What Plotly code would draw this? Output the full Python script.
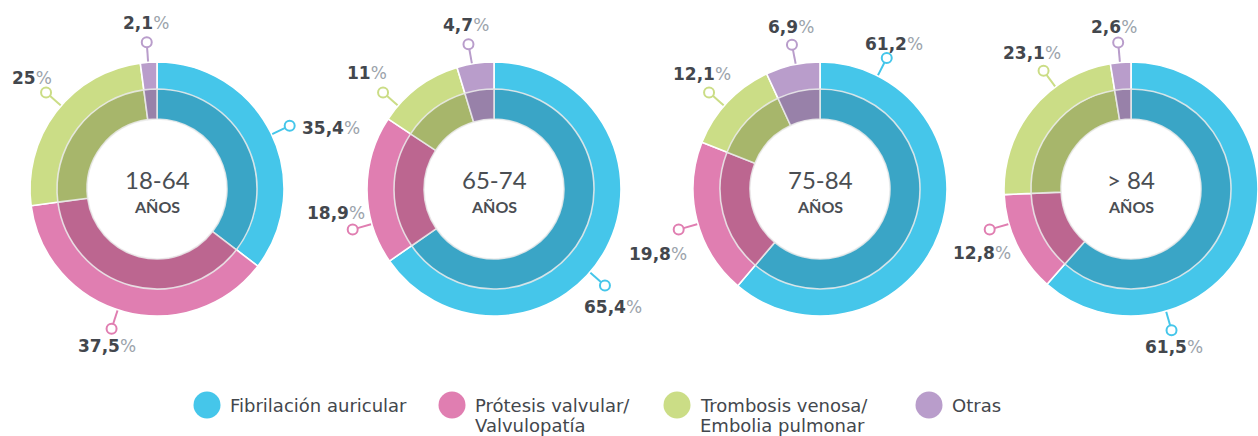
import math
import plotly.graph_objects as go

# ---------------- data ----------------
AGE_GROUPS = ["18-64", "65-74", "75-84", "> 84"]
CATEGORIES = ["Fibrilación auricular", "Prótesis valvular/<br>Valvulopatía",
              "Trombosis venosa/<br>Embolia pulmonar", "Otras"]
FIBRILACION = [35.4, 65.4, 61.2, 61.5]
PROTESIS = [37.5, 18.9, 19.8, 12.8]
TROMBOSIS = [25.0, 11.0, 12.1, 23.1]
OTRAS = [2.1, 4.7, 6.9, 2.6]
SERIES = [FIBRILACION, PROTESIS, TROMBOSIS, OTRAS]

# ---------------- layout / style ----------------
W, H = 1258, 436
CENTERS_X = [157, 494, 820, 1131]
CENTER_Y = 189
R_OUT, R_MID, R_HOLE = 127, 100, 70
R_MARK = 147
LIGHT = ["#45C6EA", "#E07EB1", "#CBDD86", "#B99DCB"]
DARK = ["#3AA5C6", "#BC6690", "#A7B66B", "#9881A9"]
TXT = "#43474D"
PCT = "#9BA3AB"
CENTER_FONT = "Lato"
LABEL_FONT = "DejaVu Sans"

# callout angle (deg clockwise from 12 o'clock) and label offset per donut/category
LABEL_ANGLES = [[64.5, 198, 311, 356],
                [131, 254, 311, 350],
                [27, 254, 311, 349],
                [164, 254, 323.5, 355]]
LABEL_OFFSETS = [[(10, 2, "left"), (-5, 17, "center"), (-14, -15, "center"), (-1, -19, "center")],
                 [(8, 22, "center"), (-17, -17, "center"), (-16, -20, "center"), (-2, -19, "center")],
                 [(7, -14, "center"), (-21, 24, "center"), (-7, -19, "center"), (-1, -18, "center")],
                 [(2, 17, "center"), (-8, 23, "center"), (-12, -18, "center"), (-4, -16, "center")]]
LEGEND_X = [207, 452, 677, 929]
LEGEND_Y = 405
LEGEND_LINE = 20


def fmt(v):
    return f"{v:g}".replace(".", ",")


fig = go.Figure()
annotations = []

for d, age in enumerate(AGE_GROUPS):
    vals = [s[d] for s in SERIES]
    cx = CENTERS_X[d]
    for r, hole, cols, lc in [(R_OUT, 0.78, LIGHT, "white"),
                              (R_MID, R_HOLE / R_MID, DARK, "rgba(235,235,235,0.85)")]:
        fig.add_trace(go.Pie(
            values=vals, labels=[c.replace("<br>", " ") for c in CATEGORIES],
            hole=hole, sort=False, direction="clockwise", rotation=0,
            marker=dict(colors=cols, line=dict(color=lc, width=1.6)),
            textinfo="none", hoverinfo="label+value", showlegend=False,
            domain=dict(x=[(cx - r) / W, (cx + r) / W],
                        y=[(H - CENTER_Y - r) / H, (H - CENTER_Y + r) / H]),
        ))
    # center text (age group + "AÑOS")
    annotations.append(dict(
        x=cx, y=CENTER_Y + 6, xref="x", yref="y", yanchor="bottom", showarrow=False, borderpad=0,
        text=age, font=dict(family=CENTER_FONT, size=24, color="#4A4E53")))
    annotations.append(dict(
        x=cx, y=CENTER_Y + 6.5, xref="x", yref="y", yanchor="top", showarrow=False, borderpad=0,
        text="AÑOS", font=dict(family=CENTER_FONT, size=16, color="#4A4E53", weight=700)))

    # callouts
    for k in range(4):
        a = math.radians(LABEL_ANGLES[d][k])
        sx, sy = math.sin(a), -math.cos(a)
        fig.add_trace(go.Scatter(
            x=[cx + R_OUT * sx, cx + (R_MARK - 5) * sx], y=[CENTER_Y + R_OUT * sy, CENTER_Y + (R_MARK - 5) * sy],
            mode="lines", line=dict(color=LIGHT[k], width=2), hoverinfo="skip", showlegend=False))
        mx, my = cx + R_MARK * sx, CENTER_Y + R_MARK * sy
        fig.add_trace(go.Scatter(
            x=[mx], y=[my], mode="markers", hoverinfo="skip", showlegend=False,
            marker=dict(symbol="circle", size=10, color="white", line=dict(color=LIGHT[k], width=2))))
        dx, dy, anc = LABEL_OFFSETS[d][k]
        annotations.append(dict(
            x=mx, y=my, xref="x", yref="y", xshift=dx, yshift=-dy, xanchor=anc, yanchor="middle",
            showarrow=False,
            text=f"<b>{fmt(vals[k])}</b><span style='color:{PCT}'>%</span>",
            font=dict(family=LABEL_FONT, size=17, color=TXT)))

# legend
fig.add_trace(go.Scatter(
    x=LEGEND_X, y=[LEGEND_Y] * 4, mode="markers", hoverinfo="skip", showlegend=False,
    marker=dict(symbol="circle", size=27, color=LIGHT, line=dict(width=0))))
for k, cat in enumerate(CATEGORIES):
    for i, line in enumerate(cat.split("<br>")):
        annotations.append(dict(
            x=LEGEND_X[k] + 22, y=LEGEND_Y + LEGEND_LINE * i, xref="x", yref="y",
            xanchor="left", yanchor="middle", showarrow=False, borderpad=0, text=line,
            font=dict(family=LABEL_FONT, size=18, color=TXT)))

fig.update_layout(
    width=W, height=H, margin=dict(l=0, r=0, t=0, b=0),
    paper_bgcolor="white", plot_bgcolor="white",
    xaxis=dict(range=[0, W], visible=False, fixedrange=True, domain=[0, 1]),
    yaxis=dict(range=[H, 0], visible=False, fixedrange=True, domain=[0, 1]),
    annotations=annotations, showlegend=False,
)

fig.write_html("out.html", config={"displayModeBar": False},
               post_script="document.body.style.margin='0';document.body.style.overflow='hidden';")
